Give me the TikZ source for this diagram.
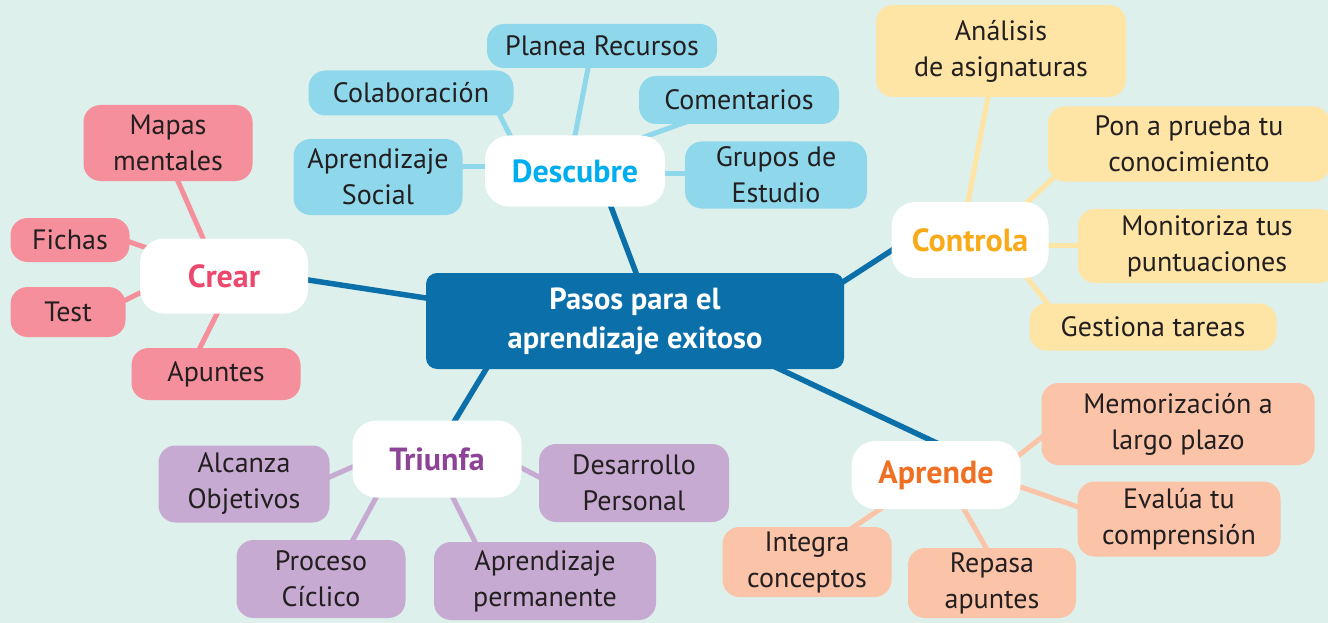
\documentclass[tikz,border=0pt]{standalone}
\usepackage{fontspec}
\setmainfont{PT Sans}
\usetikzlibrary{calc,backgrounds}
\definecolor{bgc}{RGB}{222,240,235}
\definecolor{mainblue}{RGB}{11,112,170}
\definecolor{txt}{RGB}{35,31,32}
\definecolor{descfill}{RGB}{143,215,235}
\definecolor{desctxt}{RGB}{0,174,239}
\definecolor{crearfill}{RGB}{244,143,155}
\definecolor{creartxt}{RGB}{236,72,110}
\definecolor{contrfill}{RGB}{255,229,165}
\definecolor{contrtxt}{RGB}{248,170,25}
\definecolor{aprfill}{RGB}{251,196,168}
\definecolor{aprtxt}{RGB}{240,112,35}
\definecolor{trifill}{RGB}{198,170,209}
\definecolor{tritxt}{RGB}{142,68,150}
\tikzset{
  subbox/.style={rounded corners=17pt, inner sep=0pt, align=center, text=txt,
    font=\fontsize{28}{36}\selectfont},
  hubbox/.style={fill=white, rounded corners=24pt, inner sep=0pt, align=center,
    font=\fontsize{32}{36}\selectfont\bfseries},
  mainconn/.style={draw=mainblue, line width=5.5pt, shorten <=-8pt, shorten >=-8pt},
  subconn/.style={line width=5pt, shorten <=-8pt, shorten >=-8pt},
  wh/.style 2 args={minimum width=#1pt, minimum height=#2pt}
}
\begin{document}
\begin{tikzpicture}[x=1pt,y=-1pt]
\useasboundingbox (0,0) rectangle (1328,623);
% central
\node[fill=mainblue, rounded corners=11pt, inner sep=0pt, align=center, text=white,
  font=\fontsize{30.5}{39}\selectfont\bfseries, wh={418}{96}] (main) at (635,321)
  {Pasos para el\\aprendizaje exitoso};
% hubs
\node[hubbox, text=desctxt, wh={180}{71}] (desc) at (575,171) {Descubre};
\node[hubbox, text=creartxt, wh={168}{75}] (crear) at (224,276) {Crear};
\node[hubbox, text=contrtxt, wh={157}{76}] (contr) at (970,240) {Controla};
\node[hubbox, text=aprtxt, wh={169}{68}] (apr) at (936,475) {Aprende};
\node[hubbox, text=tritxt, wh={169}{77}] (tri) at (437,459) {Triunfa};
% Descubre
\node[subbox, fill=descfill, wh={230}{44}] (planea) at (602,46) {Planea Recursos};
\node[subbox, fill=descfill, wh={205}{45}] (colab) at (411,93) {Colaboración};
\node[subbox, fill=descfill, wh={200}{48}] (coment) at (739,100) {Comentarios};
\node[subbox, fill=descfill, wh={169}{76}] (apsoc) at (378,177) {Aprendizaje\\Social};
\node[subbox, fill=descfill, wh={182}{67}] (grupos) at (776,175) {Grupos de\\Estudio};
% Crear
\node[subbox, fill=crearfill, wh={169}{76}] (mapas) at (168,143) {Mapas\\mentales};
\node[subbox, fill=crearfill, wh={119}{44}] (fichas) at (70,240) {Fichas};
\node[subbox, fill=crearfill, wh={115}{50}] (test) at (68,312) {Test};
\node[subbox, fill=crearfill, wh={169}{52}] (apuntes) at (216,374) {Apuntes};
% Controla
\node[subbox, fill=contrfill, wh={250}{92}] (analisis) at (1001,51) {Análisis\\de asignaturas};
\node[subbox, fill=contrfill, wh={282}{75}] (pon) at (1189,144) {Pon a prueba tu\\conocimiento};
\node[subbox, fill=contrfill, wh={258}{74}] (monit) at (1207,246) {Monitoriza tus\\puntuaciones};
\node[subbox, fill=contrfill, wh={247}{47}] (gest) at (1153,327) {Gestiona tareas};
% Aprende
\node[subbox, fill=aprfill, wh={273}{82}] (memo) at (1178,424) {Memorización a\\largo plazo};
\node[subbox, fill=aprfill, wh={203}{75}] (eval) at (1179,519) {Evalúa tu\\comprensión};
\node[subbox, fill=aprfill, wh={168}{70}] (repasa) at (992,583) {Repasa\\apuntes};
\node[subbox, fill=aprfill, wh={169}{70}] (integra) at (807,562) {Integra\\conceptos};
% Triunfa
\node[subbox, fill=trifill, wh={171}{77}] (alc) at (244,484) {Alcanza\\Objetivos};
\node[subbox, fill=trifill, wh={190}{78}] (des) at (634,483) {Desarrollo\\Personal};
\node[subbox, fill=trifill, wh={169}{78}] (proc) at (321,579) {Proceso\\Cíclico};
\node[subbox, fill=trifill, wh={222}{78}] (perm) at (545,581) {Aprendizaje\\permanente};
\begin{pgfonlayer}{background}
\fill[bgc] (0,0) rectangle (1328,623);
% main connectors
\draw[mainconn] ($(crear.east)+(0,4)$) -- ($(main.west)+(0,-23)$);
\draw[mainconn] ($(desc.south)+(36,0)$) -- ($(main.north)+(1,0)$);
\draw[mainconn] ($(contr.west)+(1,10)$) -- ($(main.north east)+(-1,9)$);
\draw[mainconn] ($(main.south)+(145,0)$) -- ($(apr.north)+(-4,0)$);
\draw[mainconn] ($(main.south)+(-149,0)$) -- ($(tri.north)+(18,0)$);
% Descubre
\draw[subconn, draw=descfill] ($(planea.south)+(-14,0)$) -- (desc.north);
\draw[subconn, draw=descfill] ($(colab.south)+(89,0)$) -- ($(desc.north)+(-65,0)$);
\draw[subconn, draw=descfill] ($(coment.south)+(-59,0)$) -- ($(desc.north)+(74,0)$);
\draw[subconn, draw=descfill] ($(apsoc.east)+(0,-10)$) -- ($(desc.west)+(0,-4)$);
\draw[subconn, draw=descfill] ($(desc.east)+(0,2)$) -- ($(grupos.west)+(0,-2)$);
% Crear
\draw[subconn, draw=crearfill] ($(mapas.south)+(10,0)$) -- ($(crear.north)+(-21,0)$);
\draw[subconn, draw=crearfill] ($(fichas.east)+(0,2)$) -- ($(crear.north west)+(8,10)$);
\draw[subconn, draw=crearfill] ($(test.east)+(0,-12)$) -- ($(crear.west)+(2,16)$);
\draw[subconn, draw=crearfill] ($(apuntes.north)+(-16,0)$) -- ($(crear.south)+(-7,0)$);
% Controla
\draw[subconn, draw=contrfill] ($(analisis.south)+(-13,0)$) -- ($(contr.north)+(-2,0)$);
\draw[subconn, draw=contrfill] ($(pon.south west)+(12,-10)$) -- ($(contr.north east)+(-24,3)$);
\draw[subconn, draw=contrfill] ($(contr.east)+(0,5)$) -- ($(monit.west)+(0,-1)$);
\draw[subconn, draw=contrfill] ($(contr.south east)+(-22,-1)$) -- ($(gest.north west)+(18,0)$);
% Aprende
\draw[subconn, draw=aprfill] ($(apr.east)+(-4,-18)$) -- ($(memo.west)+(2,12)$);
\draw[subconn, draw=aprfill] ($(apr.east)+(0,12)$) -- ($(eval.west)+(1,-12)$);
\draw[subconn, draw=aprfill] ($(apr.south)+(28,0)$) -- ($(repasa.north)+(-6,0)$);
\draw[subconn, draw=aprfill] ($(apr.south)+(-56,0)$) -- ($(integra.north)+(47,0)$);
% Triunfa
\draw[subconn, draw=trifill] ($(tri.west)+(0,8)$) -- ($(alc.east)+(0,-7)$);
\draw[subconn, draw=trifill] ($(tri.east)+(0,9)$) -- ($(des.west)+(2,-5)$);
\draw[subconn, draw=trifill] ($(tri.south)+(-61,0)$) -- ($(proc.north)+(32,0)$);
\draw[subconn, draw=trifill] ($(tri.south)+(16,0)$) -- ($(perm.north)+(-70,0)$);
\end{pgfonlayer}
\end{tikzpicture}
\end{document}
